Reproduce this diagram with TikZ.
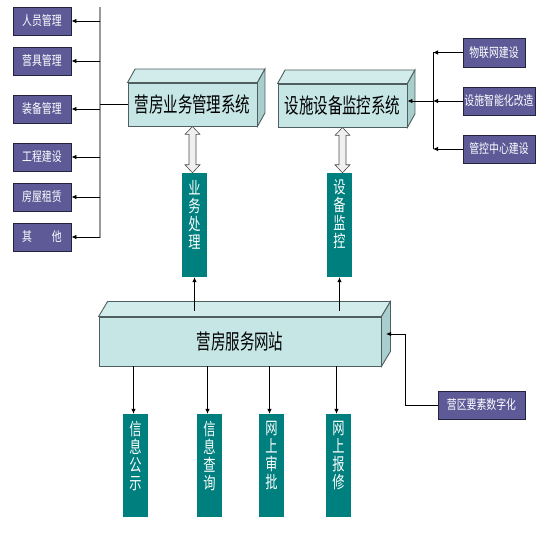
\documentclass[tikz,border=0pt]{standalone}
\usepackage{fontspec}
\newfontfamily\cjkmain[FakeStretch=0.69]{Noto Sans CJK SC}
\newfontfamily\cjkside[FakeStretch=0.76]{Noto Sans CJK SC}
\newfontfamily\cjkvert[FakeStretch=0.72]{Noto Sans CJK SC}
\usetikzlibrary{arrows.meta,calc}
\definecolor{purp}{HTML}{5E5A97}
\definecolor{purpline}{HTML}{23233F}
\definecolor{cyanf}{HTML}{C6E6E6}
\definecolor{cyant}{HTML}{D2ECEC}
\definecolor{cyanr}{HTML}{A9CECE}
\definecolor{cyanline}{HTML}{4F5E5E}
\definecolor{tealbox}{HTML}{007F7F}
\tikzset{
  sidebox/.style={draw=purpline, line width=0.9pt, fill=purp, text=white, font=\cjkside\fontsize{13}{13}\selectfont, inner sep=0pt, minimum height=28pt},
  facebox/.style={draw=cyanline, line width=0.9pt, fill=cyanf, font=\cjkmain\fontsize{21}{21}\selectfont, inner sep=0pt},
  vbox/.style={fill=tealbox, inner sep=0pt, minimum width=25pt},
  vtext/.style={text=white, font=\cjkvert\fontsize{17}{18}\selectfont, align=center, inner sep=0pt, anchor=north},
  arr/.style={draw=black, line width=0.8pt, -{Latex[length=5pt,width=4.5pt]}},
  plain/.style={draw=black, line width=0.8pt},
  hollow/.style={draw=black!70, line width=0.6pt, fill=black!6},
}
\newcommand{\boxfaces}[3]{% node, dx, dy (up)
  \filldraw[draw=cyanline, line width=0.9pt, fill=cyant] (#1.north west) -- ++(#2,-#3) -- ($(#1.north east)+(#2,-#3)$) -- (#1.north east) -- cycle;
  \filldraw[draw=cyanline, line width=0.9pt, fill=cyanr] (#1.north east) -- ++(#2,-#3) -- ($(#1.south east)+(#2,-#3)$) -- (#1.south east) -- cycle;
}
\newcommand{\dblarrow}[2]{% from south of #1 to north of #2
  \path let \p1=(#1.south), \p2=(#2.north) in
    [hollow] (\x1,\y1) -- (\x1+7.5pt,\y1-8pt) -- (\x1+3.5pt,\y1-8pt) -- (\x1+3.5pt,\y2+8pt) -- (\x1+7.5pt,\y2+8pt) -- (\x1,\y2)
    -- (\x1-7.5pt,\y2+8pt) -- (\x1-3.5pt,\y2+8pt) -- (\x1-3.5pt,\y1-8pt) -- (\x1-7.5pt,\y1-8pt) -- cycle;
}
\newcommand{\vlabel}[2]{% box node, text
  \node[vtext] (#1t) at ([yshift=-7pt]#1.north) {#2};
}
\begin{document}
\begin{tikzpicture}[x=1pt,y=-1pt]
\useasboundingbox (0,0) rectangle (550,540);

% left boxes
\node[sidebox, minimum width=58pt] (l1) at (42,21) {人员管理};
\node[sidebox, minimum width=58pt] (l2) at (42,61) {营具管理};
\node[sidebox, minimum width=58pt] (l3) at (42,109) {装备管理};
\node[sidebox, minimum width=58pt] (l4) at (42,157) {工程建设};
\node[sidebox, minimum width=58pt] (l5) at (42,197) {房屋租赁};
\node[sidebox, minimum width=58pt] (l6) at (42,237) {其\hspace{20pt}他};

% system boxes
\node[facebox, minimum width=129pt, minimum height=43pt] (sys1) at (192.5,104.5) {营房业务管理系统};
\boxfaces{sys1}{7.5}{13.5}
\node[facebox, minimum width=129pt, minimum height=43pt] (sys2) at (342.5,105.5) {设施设备监控系统};
\boxfaces{sys2}{7.5}{13.5}

% right boxes
\node[sidebox, minimum width=62pt, minimum height=29pt] (r1) at (494,52.5) {物联网建设};
\node[sidebox, minimum width=72pt] (r2) at (499,101) {设施智能化改造};
\node[sidebox, minimum width=72pt] (r3) at (499,149) {管控中心建设};

% teal boxes
\node[vbox, minimum height=104pt] (yw) at (194.5,225) {};
\vlabel{yw}{业\\务\\处\\理}
\node[vbox, minimum height=104pt] (sb) at (339.5,225) {};
\vlabel{sb}{设\\备\\监\\控}

% web box
\node[facebox, minimum width=282pt, minimum height=49pt] (web) at (240,341.5) {营房服务网站};
\boxfaces{web}{9}{15}

% bottom boxes
\node[vbox, minimum height=103pt] (b1) at (135.5,465.5) {};
\vlabel{b1}{信\\息\\公\\示}
\node[vbox, minimum height=103pt] (b2) at (209.5,465.5) {};
\vlabel{b2}{信\\息\\查\\询}
\node[vbox, minimum height=103pt] (b3) at (271.5,465.5) {};
\vlabel{b3}{网\\上\\审\\批}
\node[vbox, minimum height=103pt] (b4) at (338.5,465.5) {};
\vlabel{b4}{网\\上\\报\\修}

\node[sidebox, minimum width=87pt] (sz) at (481.5,405) {营区要素数字化};

% left spine
\coordinate (ltop) at (100,7);
\coordinate (lbot) at (100,238);
\draw[draw=black!40, line width=1.6pt] (ltop) -- (lbot);
\foreach \n in {l1,l2,l3,l4,l5,l6} \draw[arr] (\n.east -| ltop) -- (\n.east);
\draw[plain] (sys1.west -| ltop) -- (sys1.west);

% right spine
\coordinate (rtop) at (433,52.5);
\coordinate (rbot) at (433,149);
\coordinate (rmid) at (433,101);
\draw[plain] (rtop) -- (rbot);
\foreach \n in {r1,r2,r3} \draw[arr] (\n.west) -- (\n.west -| rtop);
\draw[arr] (rmid) -- (rmid -| sys2.east);

% double arrows
\dblarrow{sys1}{yw}
\dblarrow{sys2}{sb}

% up arrows
\coordinate (webtop) at ($(web.north)+(0,-6)$);
\draw[arr] (yw.south |- webtop) -- (yw.south);
\draw[arr] (sb.south |- webtop) -- (sb.south);

% down arrows
\foreach \n in {b1,b2,b3,b4} \draw[arr] ([xshift=-2pt]\n.north |- web.south) -- ([xshift=-2pt]\n.north);

% digital connector
\coordinate (szb) at (405,334);
\coordinate (sza) at (386,334);
\draw[arr] (sz.west) -| (szb) -- (sza);
\end{tikzpicture}
\end{document}
